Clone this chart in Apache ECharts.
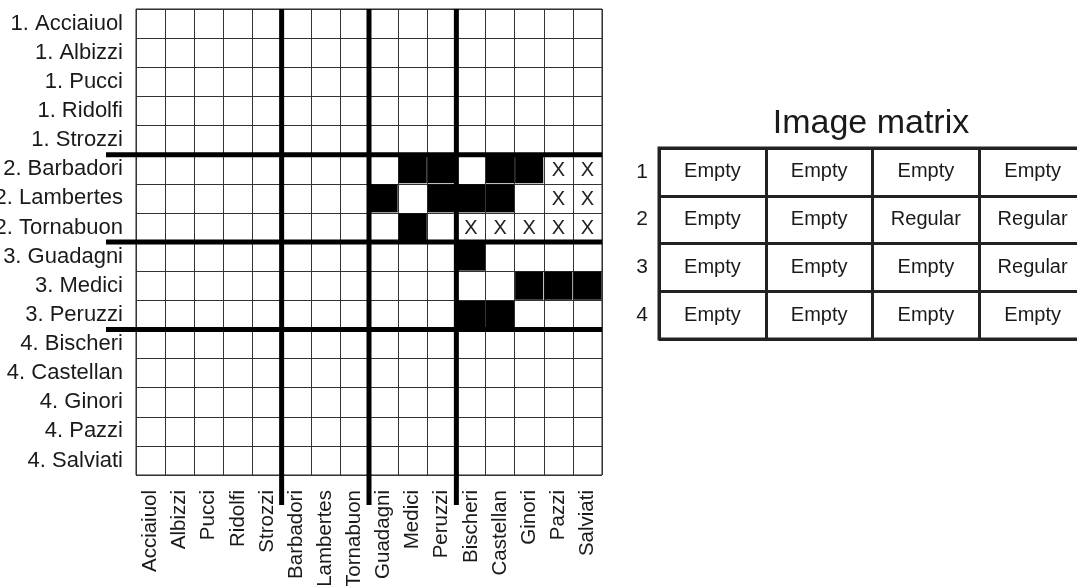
<!DOCTYPE html>
<html>
<head>
<meta charset="utf-8">
<script src="https://cdn.jsdelivr.net/npm/echarts@6/dist/echarts.min.js"></script>
<style>
  html, body { margin: 0; padding: 0; background: #fff; }
  #main { width: 1077px; height: 586px; }
</style>
</head>
<body>
<div id="main"></div>
<script>
// rows / columns of the blocked adjacency matrix
const rowNames = ['1. Acciaiuol', '1. Albizzi', '1. Pucci', '1. Ridolfi', '1. Strozzi',
  '2. Barbadori', '2. Lambertes', '2. Tornabuon',
  '3. Guadagni', '3. Medici', '3. Peruzzi',
  '4. Bischeri', '4. Castellan', '4. Ginori', '4. Pazzi', '4. Salviati'];
const colNames = ['Acciaiuol', 'Albizzi', 'Pucci', 'Ridolfi', 'Strozzi',
  'Barbadori', 'Lambertes', 'Tornabuon',
  'Guadagni', 'Medici', 'Peruzzi',
  'Bischeri', 'Castellan', 'Ginori', 'Pazzi', 'Salviati'];
// block boundaries (index of first member of each new position)
const blockBreaks = [5, 8, 11];
// filled cells: [column index, row index]
const blackCells = [[9, 5], [10, 5], [12, 5], [13, 5],
  [8, 6], [10, 6], [11, 6], [12, 6],
  [9, 7],
  [11, 8],
  [13, 9], [14, 9], [15, 9],
  [11, 10], [12, 10]];
// cells marked with X
const crossCells = [[14, 5], [15, 5], [14, 6], [15, 6],
  [11, 7], [12, 7], [13, 7], [14, 7], [15, 7]];

// image matrix table
const imageRows = ['1', '2', '3', '4'];
const imageCols = ['1', '2', '3', '4'];
const imageRow1 = ['Empty', 'Empty', 'Empty', 'Empty'];
const imageRow2 = ['Empty', 'Empty', 'Regular', 'Regular'];
const imageRow3 = ['Empty', 'Empty', 'Empty', 'Regular'];
const imageRow4 = ['Empty', 'Empty', 'Empty', 'Empty'];

const FONT = 'Liberation Sans, Arial, sans-serif';
const INK = '#1a1a1a';

const imageCells = [];
[imageRow1, imageRow2, imageRow3, imageRow4].forEach(function (row, r) {
  row.forEach(function (v, c) { imageCells.push([c, r, v]); });
});

const myChart = echarts.init(document.getElementById('main'));

const option = {
  animation: false,
  backgroundColor: '#fff',
  title: {
    text: 'Image matrix',
    left: 866,
    top: 102,
    textAlign: 'center',
    textStyle: { fontFamily: FONT, fontSize: 34, fontWeight: 'normal', color: INK }
  },
  grid: [
    { left: 136, top: 9, width: 466, height: 466, show: true, borderColor: '#222', borderWidth: 1,
      containLabel: false, outerBoundsMode: 'none' },
    { left: 659, top: 148, width: 427, height: 191, show: true, borderColor: '#222', borderWidth: 3,
      containLabel: false, outerBoundsMode: 'none' }
  ],
  xAxis: [
    {
      type: 'category', gridIndex: 0, data: colNames,
      axisLine: { show: false }, axisTick: { show: false },
      splitLine: { show: true, interval: 0, lineStyle: { color: '#333', width: 1 } },
      axisLabel: { interval: 0, rotate: 90, margin: 15, fontSize: 20.5, fontFamily: FONT, color: INK }
    },
    {
      type: 'category', gridIndex: 1, data: imageCols,
      axisLine: { show: false }, axisTick: { show: false },
      splitLine: { show: true, interval: 0, lineStyle: { color: '#222', width: 3 } },
      axisLabel: { show: false }
    }
  ],
  yAxis: [
    {
      type: 'category', gridIndex: 0, data: rowNames, inverse: true,
      axisLine: { show: false }, axisTick: { show: false },
      splitLine: { show: true, interval: 0, lineStyle: { color: '#333', width: 1 } },
      axisLabel: { interval: 0, margin: 13, fontSize: 22, fontFamily: FONT, color: INK }
    },
    {
      type: 'category', gridIndex: 1, data: imageRows, inverse: true,
      axisLine: { show: false }, axisTick: { show: false },
      splitLine: { show: true, interval: 0, lineStyle: { color: '#222', width: 3 } },
      axisLabel: { margin: 11, fontSize: 21, fontFamily: FONT, color: INK }
    }
  ],
  series: [
    {
      // black ties
      type: 'custom', xAxisIndex: 0, yAxisIndex: 0, z: 3,
      data: blackCells,
      renderItem: function (params, api) {
        const p = api.coord([api.value(0), api.value(1)]);
        const s = api.size([1, 1]);
        return {
          type: 'rect',
          shape: { x: p[0] - s[0] / 2 + 0.5, y: p[1] - s[1] / 2 + 0.5, width: s[0] - 1, height: s[1] - 1 },
          style: { fill: '#000' }
        };
      }
    },
    {
      // X marks
      type: 'custom', xAxisIndex: 0, yAxisIndex: 0, z: 3,
      data: crossCells,
      renderItem: function (params, api) {
        const p = api.coord([api.value(0), api.value(1)]);
        return {
          type: 'text',
          style: {
            text: 'X', x: p[0], y: p[1] + 1,
            align: 'center', verticalAlign: 'middle',
            font: '20px ' + FONT, fill: '#222'
          }
        };
      }
    },
    {
      // vertical block lines
      type: 'custom', xAxisIndex: 0, yAxisIndex: 0, z: 5,
      data: blockBreaks.map(function (b) { return [b, 0]; }),
      renderItem: function (params, api) {
        const k = api.value(0);
        const s = api.size([1, 1]);
        const top = api.coord([k, 0]);
        const bot = api.coord([k, rowNames.length - 1]);
        const x = top[0] - s[0] / 2;
        return {
          type: 'line',
          shape: { x1: x, y1: top[1] - s[1] / 2, x2: x, y2: bot[1] + s[1] / 2 + 30 },
          style: { stroke: '#000', lineWidth: 5 }
        };
      }
    },
    {
      // horizontal block lines
      type: 'custom', xAxisIndex: 0, yAxisIndex: 0, z: 5,
      data: blockBreaks.map(function (b) { return [0, b]; }),
      renderItem: function (params, api) {
        const k = api.value(1);
        const s = api.size([1, 1]);
        const left = api.coord([0, k]);
        const right = api.coord([colNames.length - 1, k]);
        const y = left[1] - s[1] / 2;
        return {
          type: 'line',
          shape: { x1: left[0] - s[0] / 2 - 30, y1: y, x2: right[0] + s[0] / 2, y2: y },
          style: { stroke: '#000', lineWidth: 5 }
        };
      }
    },
    {
      // image matrix entries
      type: 'custom', xAxisIndex: 1, yAxisIndex: 1, z: 3,
      data: imageCells,
      renderItem: function (params, api) {
        const p = api.coord([api.value(0), api.value(1)]);
        return {
          type: 'text',
          style: {
            text: imageCells[params.dataIndex][2], x: p[0], y: p[1],
            align: 'center', verticalAlign: 'middle',
            font: '20px ' + FONT, fill: INK
          }
        };
      }
    }
  ]
};

myChart.setOption(option);
</script>
</body>
</html>
